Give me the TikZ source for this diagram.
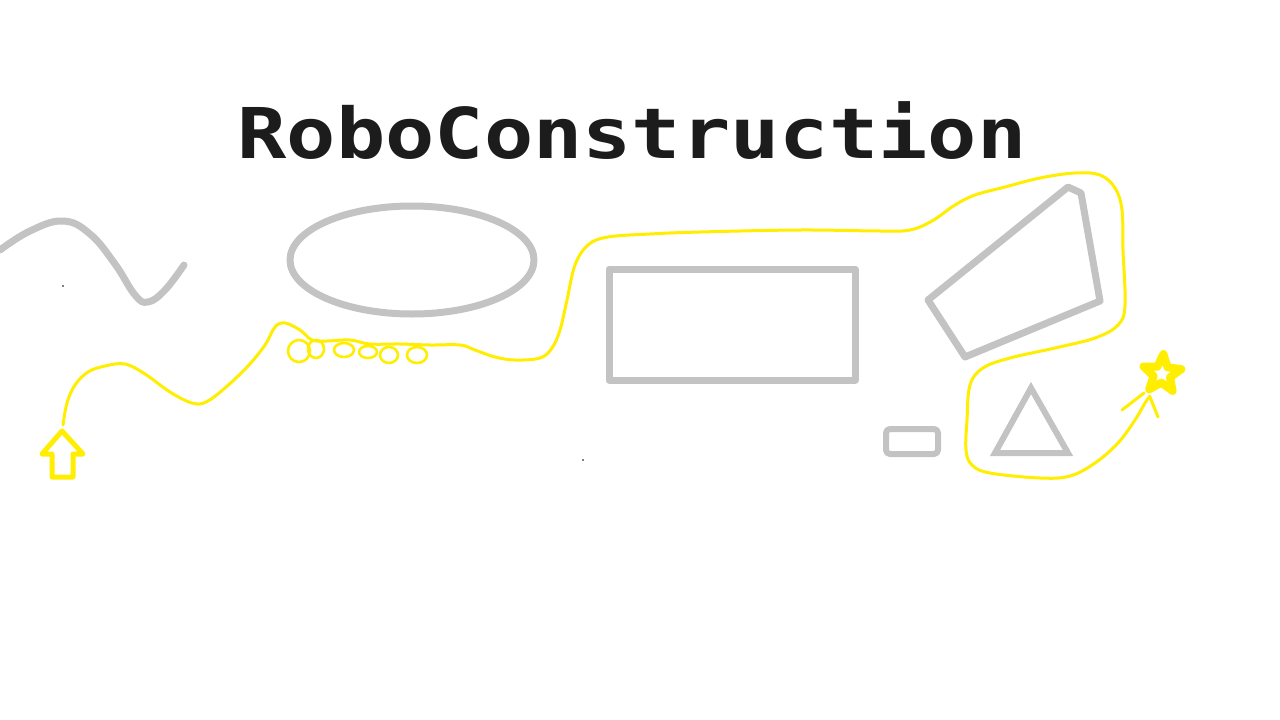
\documentclass[tikz,border=0pt]{standalone}
\usepackage{fontspec}
\setmonofont{DejaVu Sans Mono}
\usetikzlibrary{shapes.geometric,positioning}
\definecolor{sketchgray}{RGB}{195,195,195}
\definecolor{trailyellow}{RGB}{255,238,0}
\definecolor{inkblack}{RGB}{28,28,28}

\begin{document}
\begin{tikzpicture}[x=1pt,y=-1pt,
    outline/.style={draw=sketchgray,line width=7pt,line join=round,line cap=round},
    trail/.style={draw=trailyellow,line width=3pt,line cap=round,line join=round},
    loopy/.style={trail,line width=2.6pt}]
   \useasboundingbox[fill=white] (0,0) rectangle (1280,720);
   % title
   \node [anchor=base,inner sep=0pt,text=inkblack,xscale=1.17,
          font=\fontsize{70}{70}\selectfont\ttfamily\bfseries] (title) at (632,158) {RoboConstruction};
   % grey shapes
   \draw [outline] plot [smooth,tension=0.7] coordinates {(0,250) (30,231) (63,221) (90,234) (115,264) (135,295) (148,302) (165,290) (184,265)};
   \draw [outline] (412,260) ellipse [x radius=122,y radius=54];
   \draw [outline] (609,269) rectangle (855,380);
   \draw [outline] (928,300) -- (1068,187) -- (1081,193) -- (1100,301) -- (965,357) -- cycle;
   \draw [outline,line width=6pt,rounded corners=4pt] (886,429) rectangle (938,454);
   \draw [outline,line width=6pt,line join=miter] (1031,388) -- (1068,453) -- (995,453) -- cycle;
   % start arrow
   \draw [trail,line width=5pt,fill=white] (62,431) -- (83,454) -- (73,454) -- (73,477) -- (52,477) -- (52,454) -- (42,454) -- cycle;
   \coordinate (start) at (63,425);
   % trail
   \draw [trail] plot [smooth,tension=0.6] coordinates {(63,425) (67,403) (75,385) (88,372) (105,366) (125,364) (145,374) (170,392) (192,403) (206,402) (225,388) (248,366) (265,345) (275,327) (285,323) (300,330) (312,340) (327,341) (350,340) (370,344) (400,344) (430,345) (460,345) (475,350) (495,357) (515,360) (540,358) (552,348) (560,330) (567,300) (575,265) (588,245) (608,237) (650,234) (700,232) (800,230) (880,231) (910,230) (932,221) (955,205) (975,195) (1005,187) (1040,178) (1075,173) (1100,175) (1115,188) (1122,210) (1123,250) (1125,305) (1118,325) (1095,338) (1055,348) (1010,358) (983,368) (970,385) (967,420) (966,450) (972,465) (990,473) (1040,478) (1070,476) (1095,463) (1118,443) (1135,420) (1145,403) (1150,396)};
   % loops
   \foreach \cx/\cy/\rx/\ry in {299/351/11/11, 316/349/8/9, 344/350/10/7, 368/352/9/6, 389/355/9/8, 417/355/10/8}
      \draw [loopy] (\cx,\cy) ellipse [x radius=\rx,y radius=\ry];
   % goal star
   \node [star,star points=5,star point ratio=2.3,minimum size=40pt,inner sep=0pt,
          draw=trailyellow,line width=8pt,line join=round,fill=white,rotate=-4] (goal) at (1162,374) {};
   \draw [trail] (1144,393) -- (1122,410);
   \draw [trail] (1150,397) -- (1158,417);
   % stray dots
   \fill [black] (63,286) circle (0.8);
   \fill [black] (583,460) circle (0.8);
\end{tikzpicture}
\end{document}
